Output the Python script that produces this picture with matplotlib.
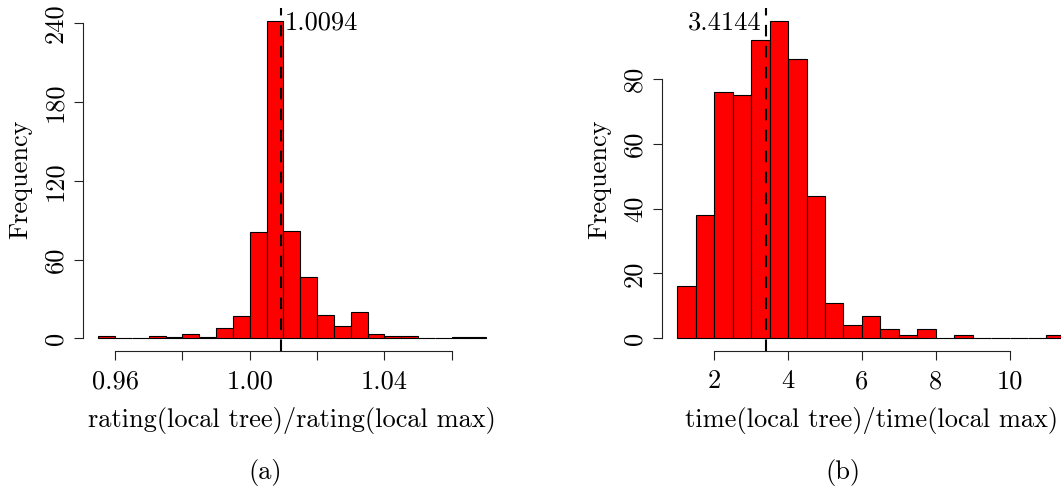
import numpy as np
import matplotlib
matplotlib.use("Agg")
import matplotlib.pyplot as plt

plt.rcParams['font.family'] = ['cmr10', 'DejaVu Serif']
plt.rcParams['axes.unicode_minus'] = False
plt.rcParams['lines.scale_dashes'] = False

# rating ratio histogram (a)
rating_start = 0.955
rating_width = 0.005
rating_counts = [2, 0, 0, 2, 1, 3, 1, 8, 17, 81, 242, 82, 47, 18, 9, 20, 3, 2, 2, 0, 0, 1, 1]
rating_mean = 1.0094
rating_xticks = [0.96, 0.98, 1.00, 1.02, 1.04, 1.06]
rating_xticklabels = ['0.96', '', '1.00', '', '1.04', '']
rating_yticks = [0, 60, 120, 180, 240]

# time ratio histogram (b)
time_start = 1.0
time_width = 0.5
time_counts = [16, 38, 76, 75, 92, 98, 86, 44, 11, 4, 7, 3, 1, 3, 0, 1, 0, 0, 0, 0, 1]
time_mean = 3.4144
time_xticks = [2, 4, 6, 8, 10]
time_xticklabels = ['2', '4', '6', '8', '10']
time_yticks = [0, 20, 40, 60, 80]

W, H = 1061, 488
FS = 19


def draw_hist(ax, start, width, counts, mean, xticks, xticklabels, yticks,
              xlabel, text_left):
    counts = np.array(counts)
    edges = start + width * np.arange(len(counts) + 1)
    ax.bar(edges[:-1], counts, width=width, align='edge', color='#ff0000',
           edgecolor='black', linewidth=0.8, zorder=2)
    # R-style 4% padding
    xr = edges[-1] - edges[0]
    ax.set_xlim(edges[0] - 0.04 * xr, edges[-1] + 0.04 * xr)
    ax.set_ylim(-0.04 * counts.max(), 1.04 * counts.max())
    ax.axvline(mean, color='black', lw=1.5, ls=(0, (8.3, 6.8)), zorder=3,
               clip_on=False)
    label = f'{mean:.4f}'
    if text_left:
        ax.annotate(label, xy=(mean, 0.938), xycoords=('data', 'axes fraction'),
                    xytext=(-3.2, 0), textcoords='offset points',
                    ha='right', va='baseline', fontsize=FS)
    else:
        ax.annotate(label, xy=(mean, 0.938), xycoords=('data', 'axes fraction'),
                    xytext=(2.2, 0), textcoords='offset points',
                    ha='left', va='baseline', fontsize=FS)

    for s in ['top', 'right']:
        ax.spines[s].set_visible(False)
    ax.spines['left'].set_bounds(yticks[0], yticks[-1])
    ax.spines['bottom'].set_bounds(xticks[0], xticks[-1])
    for s in ['left', 'bottom']:
        ax.spines[s].set_linewidth(0.8)
        ax.spines[s].set_color('#222222')

    ax.set_xticks(xticks)
    ax.set_xticklabels(xticklabels)
    ax.set_yticks(yticks)
    ax.set_yticklabels([str(v) for v in yticks], rotation=90, va='center')
    ax.tick_params(axis='both', length=6.5, width=0.8, color='#222222',
                   labelsize=FS)
    ax.tick_params(axis='x', pad=7)
    ax.tick_params(axis='y', pad=4.5)

    ax.set_xlabel(xlabel, fontsize=FS, labelpad=10)
    ax.set_ylabel('Frequency', fontsize=FS, labelpad=8)


fig = plt.figure(figsize=(W / 100, H / 100), dpi=100)

ax1 = fig.add_axes([82.7 / W, 1 - 351 / H, 418.3 / W, 343.2 / H])
ax2 = fig.add_axes([661.8 / W, 1 - 351 / H, 418.6 / W, 343.2 / H])

draw_hist(ax1, rating_start, rating_width, rating_counts, rating_mean,
          rating_xticks, rating_xticklabels, rating_yticks,
          'rating(local tree)/rating(local max)', text_left=False)
draw_hist(ax2, time_start, time_width, time_counts, time_mean,
          time_xticks, time_xticklabels, time_yticks,
          'time(local tree)/time(local max)', text_left=True)

fig.text(265 / W, 1 - 472 / H, '(a)', ha='center', va='center', fontsize=FS)
fig.text(843 / W, 1 - 472 / H, '(b)', ha='center', va='center', fontsize=FS)

fig.savefig('out.png', dpi=100)
